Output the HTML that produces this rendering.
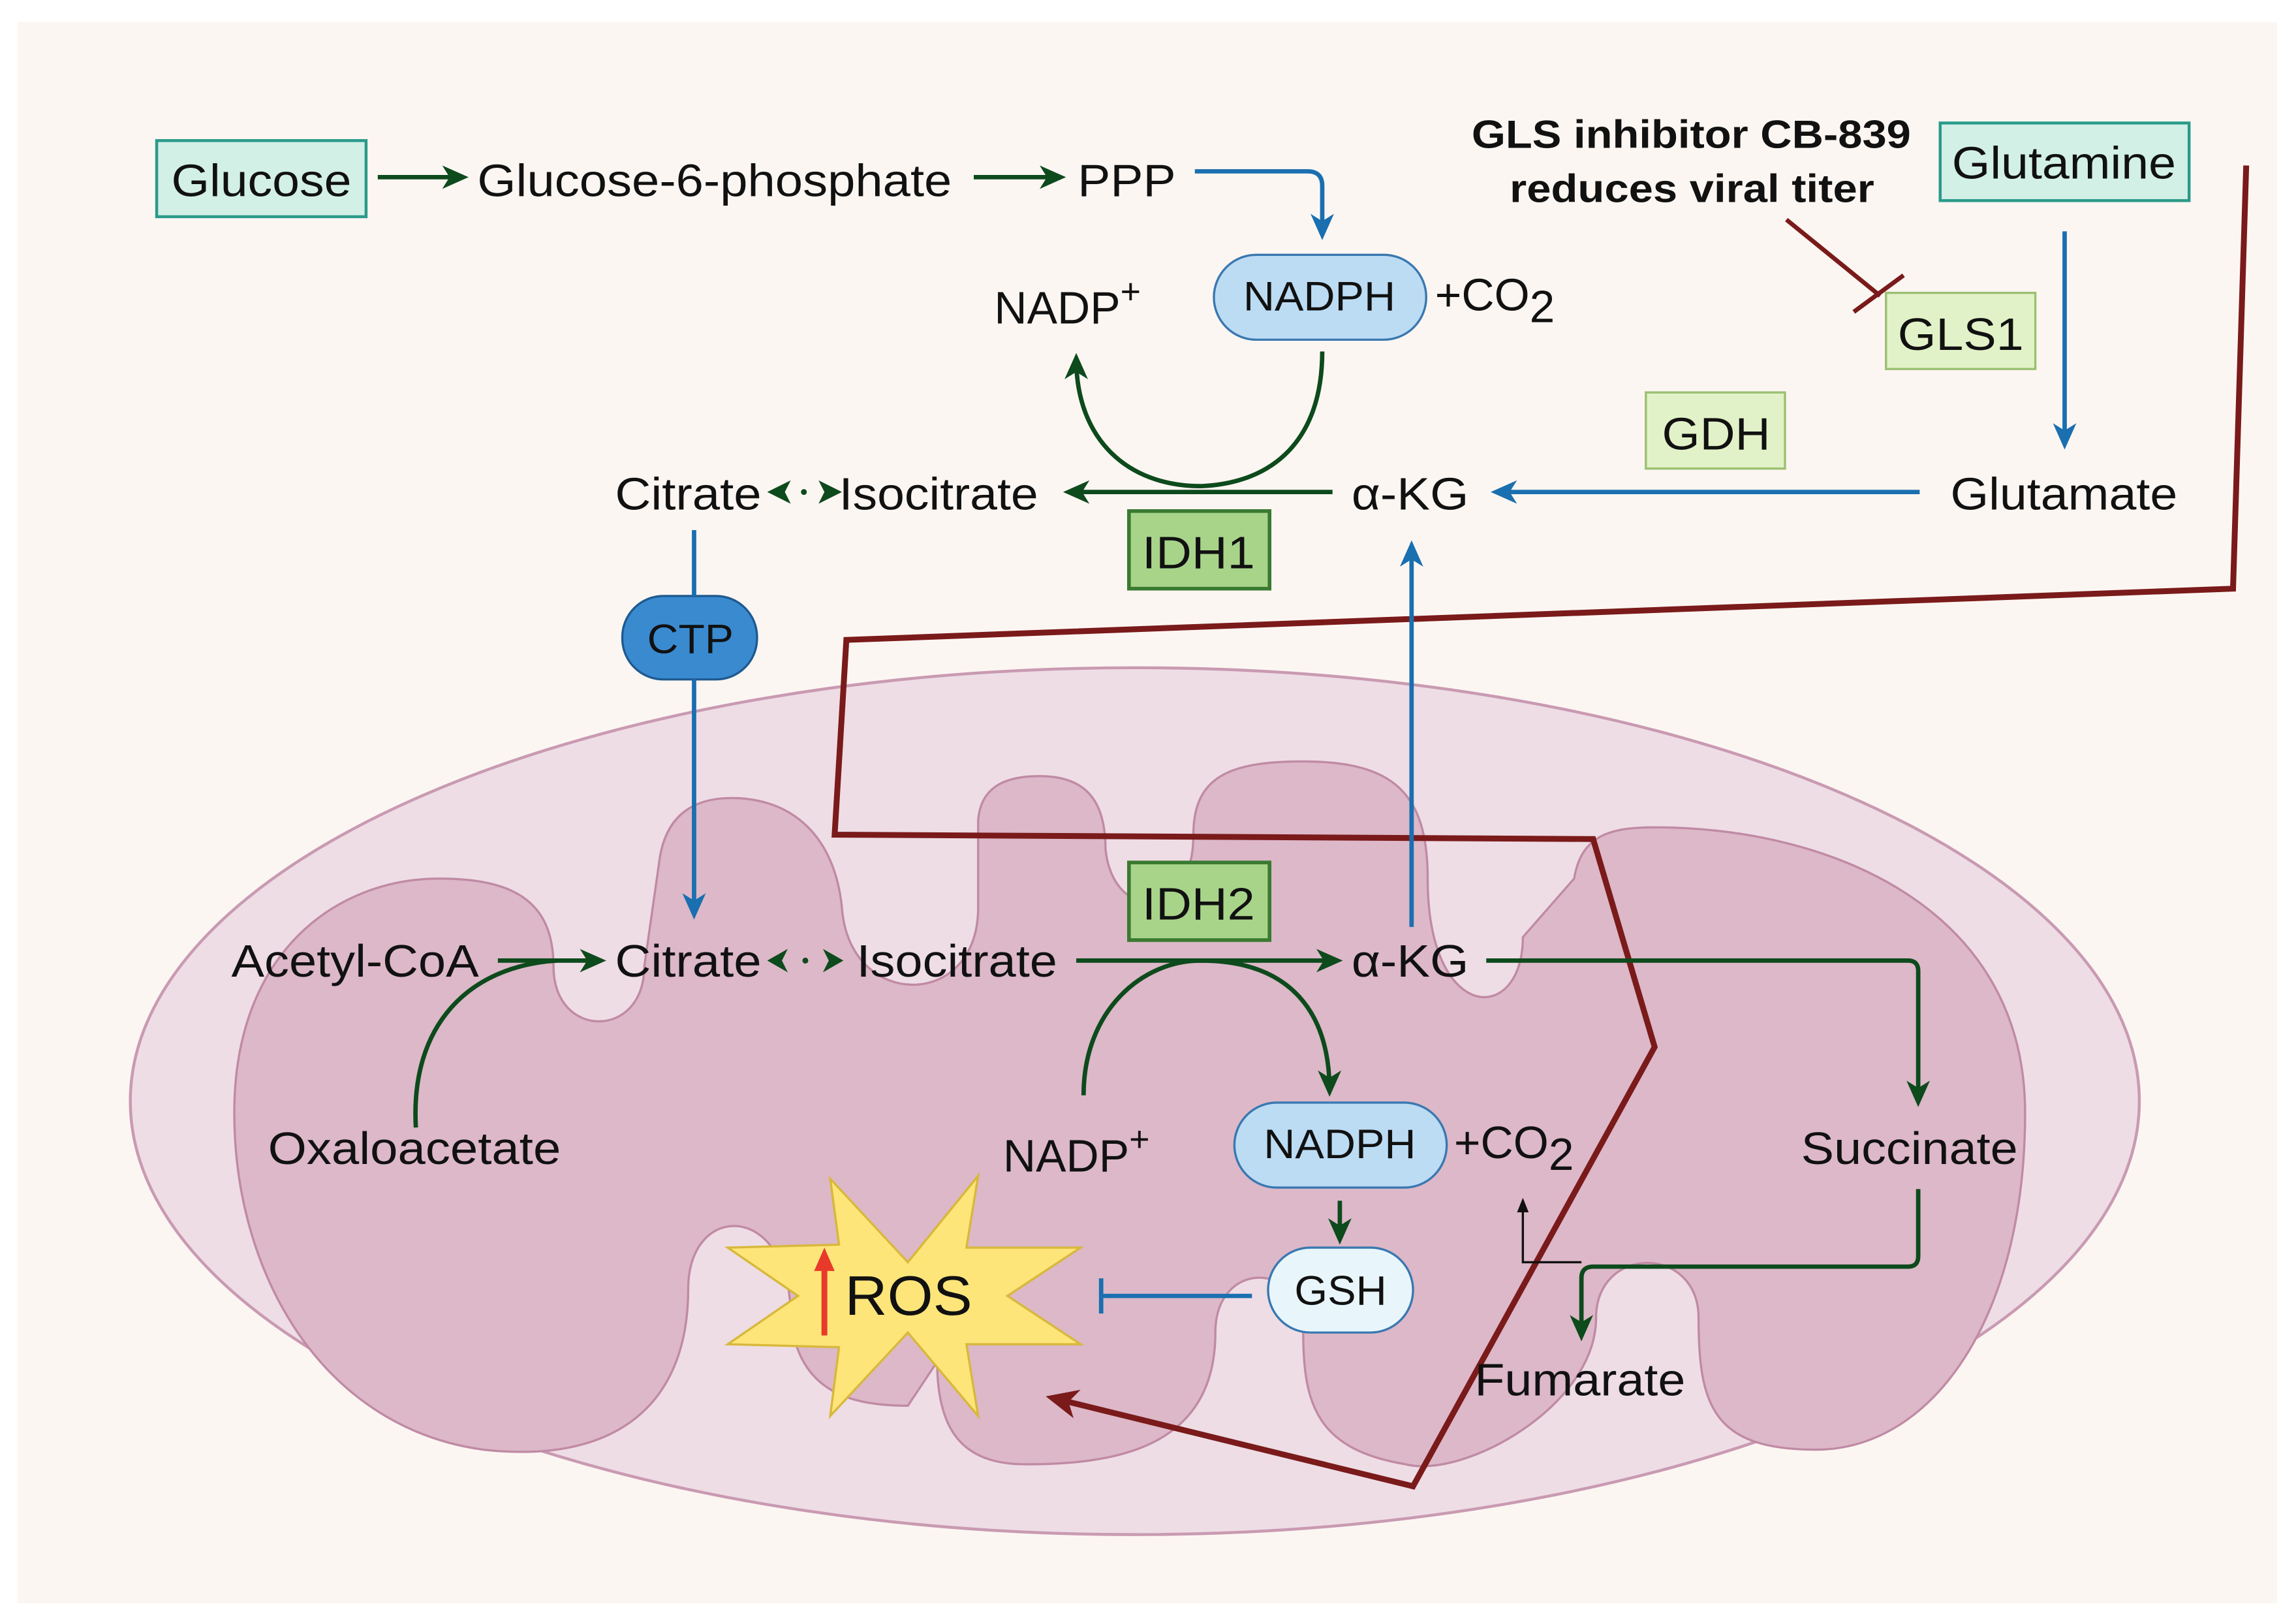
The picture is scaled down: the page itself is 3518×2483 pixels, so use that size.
<!DOCTYPE html>
<html><head><meta charset="utf-8"><style>
html,body{margin:0;padding:0;background:#fff;}
svg{display:block;}
text{font-family:"Liberation Sans",sans-serif;fill:#111;}
</style></head><body>
<svg width="3518" height="2483" viewBox="0 0 1568 1107" preserveAspectRatio="none" xmlns="http://www.w3.org/2000/svg">
<defs>
<marker id="agl" markerWidth="18" markerHeight="18" refX="14" refY="9" orient="auto" markerUnits="userSpaceOnUse" viewBox="0 0 18 18"><path d="M0,1 L18,9 L0,17 L5,9z" fill="#0d4a1c"/></marker>
<marker id="ab" markerWidth="18" markerHeight="18" refX="14" refY="9" orient="auto" markerUnits="userSpaceOnUse" viewBox="0 0 18 18"><path d="M0,1 L18,9 L0,17 L5,9z" fill="#1a6fb0"/></marker>
<marker id="ar" markerWidth="22" markerHeight="22" refX="16" refY="11" orient="auto" markerUnits="userSpaceOnUse" viewBox="0 0 22 22"><path d="M0,1 L22,11 L0,21 L6,11z" fill="#7a1a1a"/></marker>
<marker id="ak" markerWidth="10" markerHeight="10" refX="8" refY="5" orient="auto" markerUnits="userSpaceOnUse" viewBox="0 0 10 10"><path d="M0,1 L10,5 L0,9z" fill="#111"/></marker>
</defs>
<rect x="0" y="0" width="1568" height="1107" fill="#fff"/>
<rect x="12" y="15" width="1543" height="1080" fill="#fcf6f2"/>
<ellipse cx="775" cy="752" rx="686" ry="296" fill="#eedde5" stroke="#c99ab2" stroke-width="2"/>
<g fill="#dcb8c8" stroke="#c08aa4" stroke-width="1.5">
<path d="M160,760 C160,650 230,600 300,600 C350,600 378,615 378,660 C378,710 440,710 440,660 L450,590 C455,545 490,545 500,545 C540,545 570,570 575,620 C580,690 668,690 668,620 L668,560 C670,535 690,530 710,530 C740,530 755,545 755,580 C760,630 815,630 815,570 C815,530 840,520 890,520 C950,520 975,540 975,600 C975,700 1040,700 1040,640 L1075,600 C1080,570 1100,565 1130,565 C1250,565 1383,620 1383,760 C1383,900 1320,990 1240,990 C1170,990 1160,960 1160,900 C1160,850 1090,850 1090,900 C1090,960 1000,1010 960,1000 C900,990 890,960 890,910 C890,860 830,860 830,910 C830,990 760,1000 700,1000 C660,1000 640,980 640,930 L620,960 C580,960 545,950 540,900 C540,820 470,820 470,880 C470,960 420,1000 330,990 C220,975 160,870 160,760 Z"/>
</g>
<polyline points="1534,113 1525,402 578,437 570,570 1088,573 1130,715 965,1015 720,955" fill="none" stroke="#7a1a1a" stroke-width="4" marker-end="url(#ar)"/>
<rect x="107" y="96" width="143" height="52" fill="#d2f0e6" stroke="#2a9a8a" stroke-width="2"/>
<text x="117" y="134" font-size="31" textLength="123" lengthAdjust="spacingAndGlyphs">Glucose</text>
<rect x="1325" y="84" width="170" height="53" fill="#d2f0e6" stroke="#2a9a8a" stroke-width="2"/>
<text x="1333" y="122" font-size="31" textLength="153" lengthAdjust="spacingAndGlyphs">Glutamine</text>
<rect x="1288" y="200" width="102" height="52" fill="#e2f2c8" stroke="#9ac070" stroke-width="1.5"/>
<text x="1296" y="239" font-size="31" textLength="86" lengthAdjust="spacingAndGlyphs">GLS1</text>
<rect x="1124" y="268" width="95" height="52" fill="#e2f2c8" stroke="#9ac070" stroke-width="1.5"/>
<text x="1135" y="307" font-size="31" textLength="74" lengthAdjust="spacingAndGlyphs">GDH</text>
<rect x="771" y="349" width="96" height="53" fill="#a8d48a" stroke="#3a7a30" stroke-width="2.5"/>
<text x="780" y="388" font-size="31" textLength="77" lengthAdjust="spacingAndGlyphs">IDH1</text>
<rect x="771" y="589" width="96" height="53" fill="#a8d48a" stroke="#3a7a30" stroke-width="2.5"/>
<text x="780" y="628" font-size="31" textLength="77" lengthAdjust="spacingAndGlyphs">IDH2</text>
<rect x="829" y="174" width="145" height="58" rx="29" fill="#bcdcf4" stroke="#3a78b0" stroke-width="1.5"/>
<text x="849" y="212" font-size="28" textLength="104" lengthAdjust="spacingAndGlyphs">NADPH</text>
<rect x="843" y="753" width="145" height="58" rx="29" fill="#bcdcf4" stroke="#3a78b0" stroke-width="1.5"/>
<text x="863" y="791" font-size="28" textLength="104" lengthAdjust="spacingAndGlyphs">NADPH</text>
<rect x="425" y="407" width="92" height="57" rx="28" fill="#3a8ad0" stroke="#1f5a90" stroke-width="1.5"/>
<text x="442" y="446" font-size="28" textLength="59" lengthAdjust="spacingAndGlyphs">CTP</text>
<rect x="866" y="852" width="99" height="58" rx="29" fill="#e8f6fb" stroke="#3a78b0" stroke-width="1.5"/>
<text x="884" y="891" font-size="28" textLength="63" lengthAdjust="spacingAndGlyphs">GSH</text>
<polygon points="567,805 620,862 668,803 660,852 738,852 688,885 738,918 660,918 668,967 620,910 567,967 573,920 497,918 545,885 497,852 573,850" fill="#fde57a" stroke="#d8b83a" stroke-width="1.5"/>
<line x1="563" y1="912" x2="563" y2="866" stroke="#e83a2a" stroke-width="4"/>
<polygon points="556,868 563,852 570,868" fill="#e83a2a"/>
<text x="577" y="898" font-size="38" textLength="87" lengthAdjust="spacingAndGlyphs">ROS</text>
<text x="326" y="134" font-size="31" textLength="324" lengthAdjust="spacingAndGlyphs">Glucose-6-phosphate</text>
<text x="736" y="134" font-size="31" textLength="67" lengthAdjust="spacingAndGlyphs">PPP</text>
<text x="679" y="221" font-size="31">NADP<tspan font-size="24" dy="-14">+</tspan></text>
<text x="980" y="212" font-size="31">+CO<tspan dy="8">2</tspan></text>
<text x="1005" y="101" font-size="27" font-weight="bold" textLength="300" lengthAdjust="spacingAndGlyphs">GLS inhibitor CB-839</text>
<text x="1031" y="138" font-size="27" font-weight="bold" textLength="249" lengthAdjust="spacingAndGlyphs">reduces viral titer</text>
<text x="420" y="348" font-size="31" textLength="100" lengthAdjust="spacingAndGlyphs">Citrate</text>
<text x="573" y="348" font-size="31" textLength="136" lengthAdjust="spacingAndGlyphs">Isocitrate</text>
<text x="923" y="348" font-size="31" textLength="80" lengthAdjust="spacingAndGlyphs">α-KG</text>
<text x="1332" y="348" font-size="31" textLength="155" lengthAdjust="spacingAndGlyphs">Glutamate</text>
<text x="158" y="667" font-size="31" textLength="169" lengthAdjust="spacingAndGlyphs">Acetyl-CoA</text>
<text x="420" y="667" font-size="31" textLength="100" lengthAdjust="spacingAndGlyphs">Citrate</text>
<text x="585" y="667" font-size="31" textLength="137" lengthAdjust="spacingAndGlyphs">Isocitrate</text>
<text x="923" y="667" font-size="31" textLength="80" lengthAdjust="spacingAndGlyphs">α-KG</text>
<text x="183" y="795" font-size="31" textLength="200" lengthAdjust="spacingAndGlyphs">Oxaloacetate</text>
<text x="685" y="800" font-size="31">NADP<tspan font-size="24" dy="-14">+</tspan></text>
<text x="993" y="791" font-size="31">+CO<tspan dy="8">2</tspan></text>
<text x="1230" y="795" font-size="31" textLength="148" lengthAdjust="spacingAndGlyphs">Succinate</text>
<text x="1007" y="953" font-size="31" textLength="144" lengthAdjust="spacingAndGlyphs">Fumarate</text>
<g fill="none" stroke="#0d4a1c" stroke-width="3">
<line x1="258" y1="121" x2="316" y2="121" marker-end="url(#agl)"/>
<line x1="665" y1="121" x2="724" y2="121" marker-end="url(#agl)"/>
<line x1="910" y1="336" x2="730" y2="336" marker-end="url(#agl)"/>
<path d="M903,240 C903,300 870,330 820,332 C770,332 735,300 735,245" marker-end="url(#agl)"/>
<line x1="340" y1="656" x2="410" y2="656" marker-end="url(#agl)"/>
<path d="M284,770 C280,700 320,660 380,656"/>
<line x1="735" y1="656" x2="913" y2="656" marker-end="url(#agl)"/>
<path d="M740,748 C740,690 780,656 820,656 C880,656 908,690 908,745" marker-end="url(#agl)"/>
<path d="M1015,656 L1303,656 Q1310,656 1310,663 L1310,752" marker-end="url(#agl)"/>
<path d="M1310,812 L1310,858 Q1310,865 1303,865 L1088,865 Q1080,865 1080,873 L1080,912" marker-end="url(#agl)"/>
<line x1="915" y1="820" x2="915" y2="846" marker-end="url(#agl)"/>
</g>
<polygon points="524,336 540,328 536,336 540,344" fill="#0d4a1c"/>
<polygon points="575,336 559,328 563,336 559,344" fill="#0d4a1c"/>
<circle cx="549" cy="336" r="2" fill="#0d4a1c"/>
<polygon points="524,656 538,648 534,656 538,664" fill="#0d4a1c"/>
<polygon points="576,656 562,648 566,656 562,664" fill="#0d4a1c"/>
<circle cx="550" cy="656" r="2" fill="#0d4a1c"/>
<g fill="none" stroke="#1a6fb0" stroke-width="3">
<path d="M816,117 L893,117 Q903,117 903,127 L903,160" marker-end="url(#ab)"/>
<line x1="1410" y1="158" x2="1410" y2="303" marker-end="url(#ab)"/>
<line x1="1311" y1="336" x2="1022" y2="336" marker-end="url(#ab)"/>
<line x1="964" y1="633" x2="964" y2="373" marker-end="url(#ab)"/>
<line x1="474" y1="362" x2="474" y2="407"/>
<line x1="474" y1="464" x2="474" y2="624" marker-end="url(#ab)"/>
<line x1="855" y1="885" x2="752" y2="885"/>
<line x1="752" y1="873" x2="752" y2="897"/>
</g>
<line x1="1220" y1="150" x2="1284" y2="202" stroke="#7a1a1a" stroke-width="3"/>
<line x1="1266" y1="213" x2="1300" y2="188" stroke="#7a1a1a" stroke-width="3"/>
<polyline points="1080,862 1040,862 1040,820" fill="none" stroke="#111" stroke-width="1.5" marker-end="url(#ak)"/>
</svg>
</body></html>
